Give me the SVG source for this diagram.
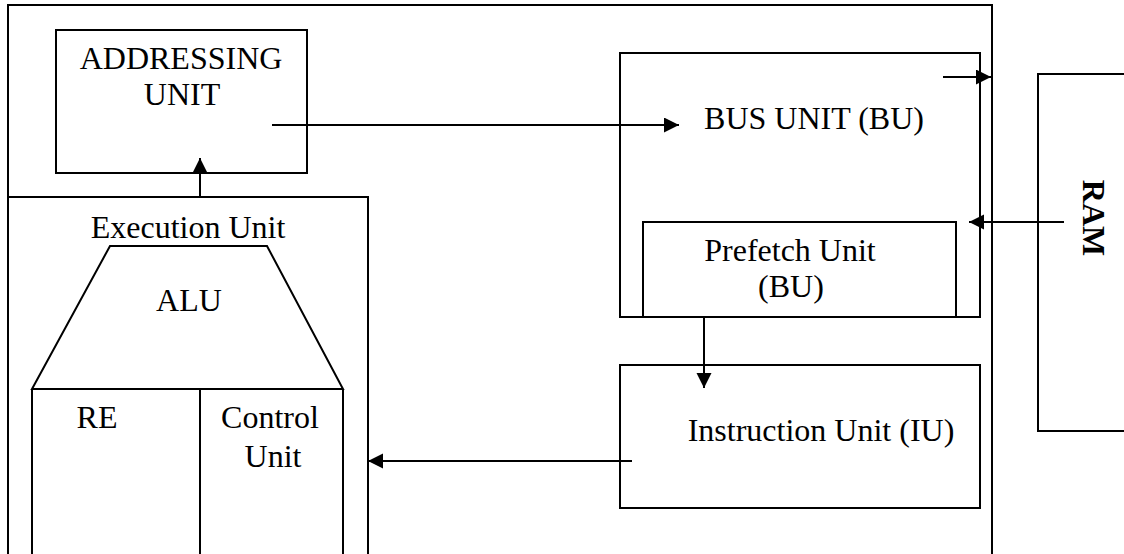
<svg xmlns="http://www.w3.org/2000/svg" width="1124" height="554" viewBox="0 0 1124 554">
  <style>
    .box { fill: none; stroke: #000; stroke-width: 2; }
    .wire { fill: none; stroke: #000; stroke-width: 2; }
    text { font-family: "Liberation Serif", "Times New Roman", serif; font-size: 32px; fill: #000; text-anchor: middle; }
    .bold { font-weight: bold; }
  </style>
  <defs>
    <marker id="arrow" markerUnits="userSpaceOnUse" markerWidth="16" markerHeight="16" refX="15" refY="7.5" orient="auto">
      <path d="M0,0 L15,7.5 L0,15 Z" fill="#000"/>
    </marker>
  </defs>
  <rect width="1124" height="554" fill="#fff"/>

  <!-- CPU frame -->
  <g id="cpu">
    <path class="box" d="M8,560 V5 H992 V560"/>
  </g>

  <g id="addressing-unit">
    <rect class="box" x="56" y="30" width="251" height="143"/>
    <text x="181" y="69">ADDRESSING</text>
    <text x="182" y="105">UNIT</text>
  </g>

  <g id="execution-unit">
    <path class="box" d="M8,197 H368 V560"/>
    <text x="188" y="238">Execution Unit</text>
  </g>

  <g id="alu">
    <path class="box" d="M32,389 L110,246 H267 L343,389 Z"/>
    <text x="189" y="311">ALU</text>
  </g>

  <g id="registers">
    <path class="box" d="M32,389 V560 M200,389 V560"/>
    <text x="97" y="428">RE</text>
  </g>

  <g id="control-unit">
    <path class="box" d="M343,389 V560"/>
    <text x="270" y="428">Control</text>
    <text x="273" y="467">Unit</text>
  </g>

  <g id="bus-unit">
    <rect class="box" x="620" y="53" width="360" height="264"/>
    <text x="814" y="129">BUS UNIT (BU)</text>
  </g>

  <g id="prefetch-unit">
    <path class="box" d="M643,317 V222 H956 V317"/>
    <text x="790" y="261">Prefetch Unit</text>
    <text x="791" y="297">(BU)</text>
  </g>

  <g id="instruction-unit">
    <rect class="box" x="620" y="365" width="360" height="143"/>
    <text x="821" y="441">Instruction Unit (IU)</text>
  </g>

  <g id="ram">
    <path class="box" d="M1132,74 H1038 V431 H1132"/>
    <text class="bold" transform="translate(1083,218) rotate(90)" x="0" y="0">RAM</text>
  </g>

  <!-- data paths -->
  <g id="connectors">
    <path class="wire" d="M272,125 H679" marker-end="url(#arrow)"/>
    <path class="wire" d="M200,197 V158" marker-end="url(#arrow)"/>
    <path class="wire" d="M943,77 H991" marker-end="url(#arrow)"/>
    <path class="wire" d="M1064,222 H969" marker-end="url(#arrow)"/>
    <path class="wire" d="M704,317 V388" marker-end="url(#arrow)"/>
    <path class="wire" d="M632,461 H368" marker-end="url(#arrow)"/>
  </g>
</svg>
